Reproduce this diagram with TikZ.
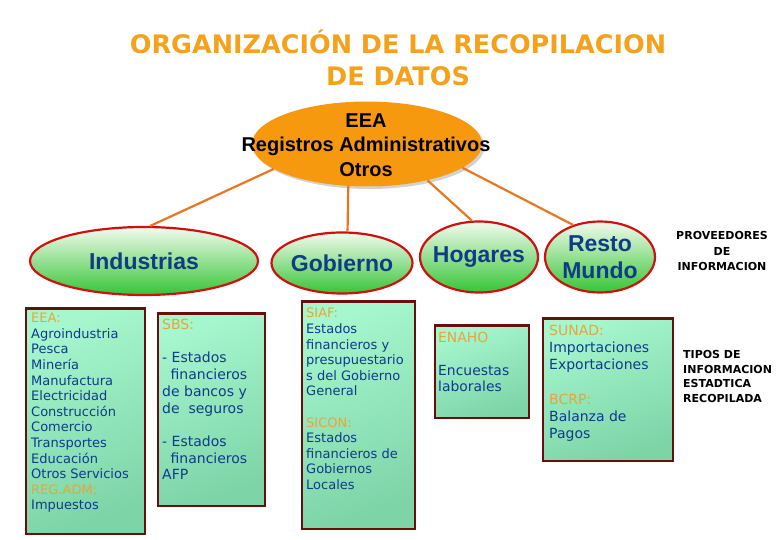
\documentclass[tikz,border=0pt]{standalone}
\usepackage{fontspec}
\setmainfont{DejaVu Sans}
\newfontfamily\arialfont{Liberation Sans}
\usetikzlibrary{shapes.geometric,shadows,positioning}
\definecolor{titleorange}{HTML}{F4A11E}
\definecolor{srcorange}{HTML}{F7990F}
\definecolor{linkorange}{HTML}{E87722}
\definecolor{ovalred}{HTML}{D01010}
\definecolor{ovalpale}{HTML}{F2FBEE}
\definecolor{ovalgreen}{HTML}{36C536}
\definecolor{ovalblue}{HTML}{0F3C85}
\definecolor{boxred}{HTML}{6A0D0D}
\definecolor{mintlight}{HTML}{A6F6CE}
\definecolor{mintdark}{HTML}{7DD4A7}
\definecolor{boxblue}{HTML}{103A8C}
\definecolor{laborange}{HTML}{E9A43C}
\newcommand{\boxlabel}[1]{\textcolor{laborange}{#1}}

\begin{document}
\begin{tikzpicture}[x=1pt,y=-1pt,
                    oval/.style={ellipse, draw=ovalred, line width=2.2pt, top color=ovalpale, bottom color=ovalgreen, inner sep=0pt},
                    ovaltext/.style={text=ovalblue, font=\arialfont\bfseries\fontsize{23}{27}\selectfont, align=center, inner sep=0pt},
                    infobox/.style={rectangle, draw=boxred, line width=2.6pt, top color=mintlight, bottom color=mintdark, shading angle=20, inner sep=0pt, anchor=north west},
                    infotext/.style={anchor=north west, inner sep=0pt, align=left, text=boxblue},
                    link/.style={draw=linkorange, line width=2.2pt},
                    sidetext/.style={font=\bfseries\fontsize{11}{15.5}\selectfont, text=black, inner sep=0pt},
                   ]

\useasboundingbox (0,0) rectangle (780,540);

\node[font=\bfseries\fontsize{25.5}{32}\selectfont, text=titleorange, align=center, inner sep=0pt] (title) at (398,58) {ORGANIZACIÓN DE LA RECOPILACION\\DE DATOS};

\node[ellipse, fill=srcorange, minimum width=230, minimum height=85, inner sep=0pt,
      drop shadow={shadow xshift=2.5pt, shadow yshift=-2.5pt, fill=gray!70}] (src) at (367,144) {};
\node[font=\arialfont\bfseries\fontsize{20}{24.5}\selectfont, align=center, inner sep=0pt] (srctext) at (366,145) {EEA\\Registros Administrativos\\Otros};

\node[oval, minimum width=228, minimum height=68] (ind) at (144,261) {};
\node[oval, minimum width=141, minimum height=61] (gob) at (342,263) {};
\node[oval, minimum width=118, minimum height=71] (hog) at (479,257) {};
\node[oval, minimum width=110, minimum height=71] (rest) at (600,257) {};

\node[ovaltext] (indtext) at (ind) {Industrias};
\node[ovaltext] (gobtext) at (gob) {Gobierno};
\node[ovaltext] (hogtext) at (hog) {Hogares};
\node[ovaltext] (resttext) at (rest) {Resto\\Mundo};

\draw[link] (src.195) -- (ind.80);
\draw[link] (src.246) -- (gob.80);
\draw[link] (src.329) -- (hog.101);
\draw[link] (src.346) -- (rest.130);

\node[infobox, minimum width=119, minimum height=225] (indbox) at (24.5,307.5) {};
\node[infobox, minimum width=107, minimum height=192] (sbsbox) at (156.5,312.5) {};
\node[infobox, minimum width=113, minimum height=227] (gobbox) at (300.5,300.5) {};
\node[infobox, minimum width=94, minimum height=92] (hogbox) at (433.5,324.5) {};
\node[infobox, minimum width=130, minimum height=142] (restbox) at (541.5,317.5) {};

\node[infotext, font=\fontsize{13}{15.6}\selectfont] (indinfo) at (31,313)
  {\boxlabel{EEA:}\\Agroindustria\\Pesca\\Minería\\Manufactura\\Electricidad\\Construcción\\Comercio\\Transportes\\Educación\\Otros Servicios\\\boxlabel{REG.ADM:}\\Impuestos};
\node[infotext, font=\fontsize{14}{16.7}\selectfont] (sbsinfo) at (162,319)
  {\boxlabel{SBS:}\\\mbox{}\\- Estados\\\hspace*{0.6em}financieros\\de bancos y\\de\ \ seguros\\\mbox{}\\- Estados\\\hspace*{0.6em}financieros\\AFP};
\node[infotext, font=\fontsize{13}{15.6}\selectfont] (gobinfo) at (306,308)
  {\boxlabel{SIAF:}\\Estados\\financieros y\\presupuestario\\s del Gobierno\\General\\\mbox{}\\\boxlabel{SICON:}\\Estados\\financieros de\\Gobiernos\\Locales};
\node[infotext, font=\fontsize{13.9}{16.4}\selectfont] (hoginfo) at (438,332)
  {\boxlabel{ENAHO}\\\mbox{}\\Encuestas\\laborales};
\node[infotext, font=\fontsize{14}{17.2}\selectfont] (restinfo) at (549,325)
  {\boxlabel{SUNAD:}\\Importaciones\\Exportaciones\\\mbox{}\\\boxlabel{BCRP:}\\Balanza de\\Pagos};

\node[sidetext, align=center] (prov) at (722,251) {PROVEEDORES\\DE\\INFORMACION};
\node[sidetext, align=left, anchor=west, font=\bfseries\fontsize{11}{14.5}\selectfont] (tipos) at (683,376.5) {TIPOS DE\\INFORMACION\\ESTADTICA\\RECOPILADA};

\end{tikzpicture}
\end{document}
